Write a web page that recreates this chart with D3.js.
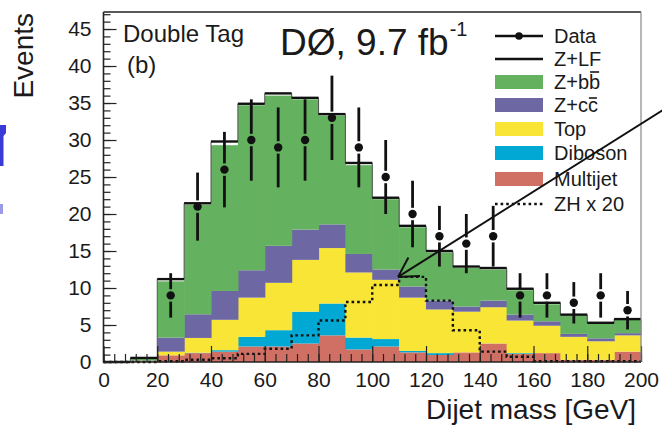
<!DOCTYPE html>
<html><head><meta charset="utf-8">
<script src="https://cdn.jsdelivr.net/npm/d3@7"></script>
<style>
body{margin:0;background:#fff}
svg{display:block}
text{font-family:"Liberation Sans",Arial,Helvetica,sans-serif;fill:#1a1a1a}
</style>
</head><body>
<svg id="c" width="662" height="427"></svg>
<script>
// ---- data (dijet mass bins, 10 GeV wide) ----
const binLow   = [0,10,20,30,40,50,60,70,80,90,100,110,120,130,140,150,160,170,180,190];
const multijet = [0,0.1,0.9,1.2,1.4,2.1,2.1,2.5,3.6,1.7,2.1,1.3,0.95,1.3,2.5,1.1,1.2,0.3,0.3,1.4];
const diboson  = [0,0,0,0.05,0.2,1.3,2.2,4.3,4.3,1.6,1.0,0.2,0.25,0,0,0.1,0,0,0,0];
const topq     = [0,0.05,0.5,2.0,4.1,5.3,6.4,7.0,7.5,8.8,8.0,7.2,5.9,5.5,4.9,4.4,3.7,3.1,2.5,2.2];
const zcc      = [0,0.05,1.9,3.2,3.9,3.7,5.0,4.1,3.2,2.5,1.4,1.5,1.2,0.7,0.9,0.8,0.6,0.4,0.4,0.3];
const zbb      = [0,0.3,7.6,14.8,19.7,22.3,20.3,17.6,14.7,12.0,9.5,8.0,6.5,5.2,4.2,3.3,2.3,2.5,2.0,1.8];
const zlf      = [0,0.05,0.3,0.2,0.5,0.2,0.3,0.2,0.2,0.3,0.2,0.2,0.2,0.2,0.2,0.2,0.2,0.1,0.1,0.1];
const zhx20    = [0,0,0.1,0.3,0.5,1.1,1.8,3.6,5.6,8.1,10.4,11.5,8.3,4.3,1.4,0.7,0.1,0.1,0.1,0.1];
const dataN    = [null,null,9,21,26,30,29,30,33,29,25,20,17,16,17,9,9,8,9,7];
const dataErr  = [null,null,3.0,4.6,5.1,5.5,5.4,5.5,5.7,5.4,5.0,4.5,4.1,4.0,4.1,3.0,3.0,2.8,3.0,2.6];
const xTicks   = [0,20,40,60,80,100,120,140,160,180,200];
const yTicks   = [0,5,10,15,20,25,30,35,40,45];
const legendNames = ["Data","Z+LF","Z+bb","Z+cc","Top","Diboson","Multijet","ZH x 20"];
const arrowTail = [214.5, 35.5];   // data coords
const arrowTip  = [109.6, 11.5];

// ---- setup ----
const svg = d3.select("#c");
const x = d3.scaleLinear().domain([0,200]).range([103.5,641]);
const y = d3.scaleLinear().domain([0,47.3]).range([362,12]);
const binW = 10;
const col = {multijet:"#d07064", diboson:"#00a8d3", top:"#f8e536", zcc:"#6d68a3", zbb:"#64b15f"};

const rows = binLow.map((b,i)=>({b, multijet:multijet[i], diboson:diboson[i], top:topq[i], zcc:zcc[i], zbb:zbb[i], zlf:zlf[i]}));
const keys = ["multijet","diboson","top","zcc","zbb","zlf"];
const stack = d3.stack().keys(keys)(rows);

stack.forEach(layer=>{
  if(layer.key==="zlf") return;
  svg.append("g").selectAll("rect").data(layer).join("rect")
    .attr("x", d=>x(d.data.b))
    .attr("width", d=>x(d.data.b+binW)-x(d.data.b)+0.6)
    .attr("y", d=>y(d[1]))
    .attr("height", d=>Math.max(0,y(d[0])-y(d[1])))
    .attr("fill", col[layer.key]);
});

// total (Z+LF) outline
const totalLayer = stack[stack.length-1];
const totPts = totalLayer.map(d=>[d.data.b, d[1]]);
totPts.push([200, totalLayer[totalLayer.length-1][1]]);
const stepLine = d3.line().x(d=>x(d[0])).y(d=>y(d[1])).curve(d3.curveStepAfter);
svg.append("path").attr("d", stepLine(totPts)).attr("fill","none").attr("stroke","#555").attr("stroke-width",1);
svg.append("g").selectAll("line").data(totalLayer).join("line")
  .attr("x1", d=>x(d.data.b)).attr("x2", d=>x(d.data.b+binW))
  .attr("y1", d=>y(d[1])).attr("y2", d=>y(d[1]))
  .attr("stroke","#111").attr("stroke-width",2.4);

// ZH x 20 dotted
const zhPts = binLow.map((b,i)=>[b, zhx20[i]]);
zhPts.push([200, zhx20[zhx20.length-1]]);
svg.append("path").attr("d", stepLine(zhPts)).attr("fill","none")
  .attr("stroke","#111").attr("stroke-width",2.4).attr("stroke-dasharray","2.6,3");

// data points
const r = 4.2, gap = 2;
binLow.forEach((b,i)=>{
  if(dataN[i]==null) return;
  const cx = x(b+binW/2), cy = y(dataN[i]);
  const g = svg.append("g");
  g.append("line").attr("x1",cx).attr("x2",cx).attr("y1",y(dataN[i]+dataErr[i])).attr("y2",cy-r-gap)
    .attr("stroke","#111").attr("stroke-width",2.8);
  g.append("line").attr("x1",cx).attr("x2",cx).attr("y1",cy+r+gap).attr("y2",y(dataN[i]-dataErr[i]))
    .attr("stroke","#111").attr("stroke-width",2.8);
  g.append("circle").attr("cx",cx).attr("cy",cy).attr("r",r).attr("fill","#111");
});

// ---- axes ----
const xMinor = d3.range(0,201,4);
const yMinor = d3.range(0,48,1);
const axX = svg.append("g").attr("transform","translate(0,362)")
  .call(d3.axisBottom(x).tickValues(xTicks).tickSize(-16).tickPadding(10).tickFormat(d3.format("d")));
const axXm = svg.append("g").attr("transform","translate(0,362)")
  .call(d3.axisBottom(x).tickValues(xMinor).tickSize(-8).tickFormat(""));
const axY = svg.append("g").attr("transform","translate(103.5,0)")
  .call(d3.axisLeft(y).tickValues(yTicks).tickSize(-13).tickPadding(12).tickFormat(d3.format("d")));
const axYm = svg.append("g").attr("transform","translate(103.5,0)")
  .call(d3.axisLeft(y).tickValues(yMinor).tickSize(-7).tickFormat(""));
[axX,axXm,axY,axYm].forEach(a=>{
  a.select(".domain").remove();
  a.selectAll("line").attr("stroke","#222").attr("stroke-width",1.2);
  a.selectAll("text").attr("font-size",21).attr("font-family",'"Liberation Sans",Arial,sans-serif').attr("fill","#1a1a1a");
});

// frame
svg.append("line").attr("x1",103.5).attr("x2",641).attr("y1",12).attr("y2",12).attr("stroke","#222").attr("stroke-width",1.5);
svg.append("line").attr("x1",641).attr("x2",641).attr("y1",12).attr("y2",362).attr("stroke","#888").attr("stroke-width",1.2);
svg.append("line").attr("x1",103.5).attr("x2",103.5).attr("y1",12).attr("y2",362.5).attr("stroke","#222").attr("stroke-width",1.6);
svg.append("line").attr("x1",103).attr("x2",641).attr("y1",362).attr("y2",362).attr("stroke","#222").attr("stroke-width",1.6);

// axis titles
svg.append("text").attr("transform","translate(33,13) rotate(-90)").attr("text-anchor","end")
  .attr("font-size",28).text("Events");
svg.append("text").attr("x",636).attr("y",419).attr("text-anchor","end").attr("font-size",28).text("Dijet mass [GeV]");

// annotations
svg.append("text").attr("x",123).attr("y",42).attr("font-size",24).text("Double Tag");
svg.append("text").attr("x",127).attr("y",73).attr("font-size",24).text("(b)");
const d0 = svg.append("text").attr("x",280).attr("y",55).attr("font-size",37).text("DØ, 9.7 fb");
const d0w = d0.node().getComputedTextLength();
svg.append("text").attr("x",280+d0w+1).attr("y",36).attr("font-size",20).text("-1");

// legend
const legY = [36,59,82,105,129,153,179,204];
const lx0 = 495, lx1 = 543, tx = 554;
const legType = ["data","line","zbb","zcc","top","diboson","multijet","dotted"];
legendNames.forEach((name,i)=>{
  const cy = legY[i], t = legType[i];
  if(t==="data"){
    svg.append("line").attr("x1",lx0).attr("x2",lx1).attr("y1",cy).attr("y2",cy).attr("stroke","#111").attr("stroke-width",2.4);
    svg.append("circle").attr("cx",(lx0+lx1)/2).attr("cy",cy).attr("r",3.8).attr("fill","#111");
  } else if(t==="line"){
    svg.append("line").attr("x1",lx0).attr("x2",lx1).attr("y1",cy).attr("y2",cy).attr("stroke","#111").attr("stroke-width",2.4);
  } else if(t==="dotted"){
    svg.append("line").attr("x1",lx0).attr("x2",lx1).attr("y1",cy).attr("y2",cy).attr("stroke","#111").attr("stroke-width",2.4).attr("stroke-dasharray","2.6,3");
  } else {
    svg.append("rect").attr("x",lx0).attr("y",cy-7).attr("width",lx1-lx0).attr("height",14).attr("fill",col[t]);
  }
  const te = svg.append("text").attr("x",tx).attr("y",cy+7).attr("font-size",20).text(name);
  if(t==="zbb"||t==="zcc"){
    const n = te.node(), idx = name.length-1;
    const ext = n.getExtentOfChar(idx);
    const oy = t==="zbb" ? cy-10 : cy-7;
    svg.append("line").attr("x1",ext.x+1).attr("x2",ext.x+ext.width-1)
      .attr("y1",oy).attr("y2",oy).attr("stroke","#1a1a1a").attr("stroke-width",1.6);
  }
});

// arrow
const ax0 = x(arrowTail[0]), ay0 = y(arrowTail[1]), ax1 = x(arrowTip[0]), ay1 = y(arrowTip[1]);
svg.append("line").attr("x1",ax0).attr("y1",ay0).attr("x2",ax1).attr("y2",ay1).attr("stroke","#111").attr("stroke-width",2);
const ang = Math.atan2(ay0-ay1, ax0-ax1);
[-0.52,0.52].forEach(da=>{
  svg.append("line").attr("x1",ax1).attr("y1",ay1)
    .attr("x2",ax1+22*Math.cos(ang+da)).attr("y2",ay1+22*Math.sin(ang+da))
    .attr("stroke","#111").attr("stroke-width",2);
});

// blue slide fragments at the left edge
svg.append("path").attr("d","M0,125 L6,125 L6,133 L3.5,136 L3.5,166 L0,166 Z").attr("fill","#3a3ad8");
svg.append("rect").attr("x",0).attr("y",204).attr("width",3).attr("height",10).attr("fill","#9a9ae8");
</script>
</body></html>
